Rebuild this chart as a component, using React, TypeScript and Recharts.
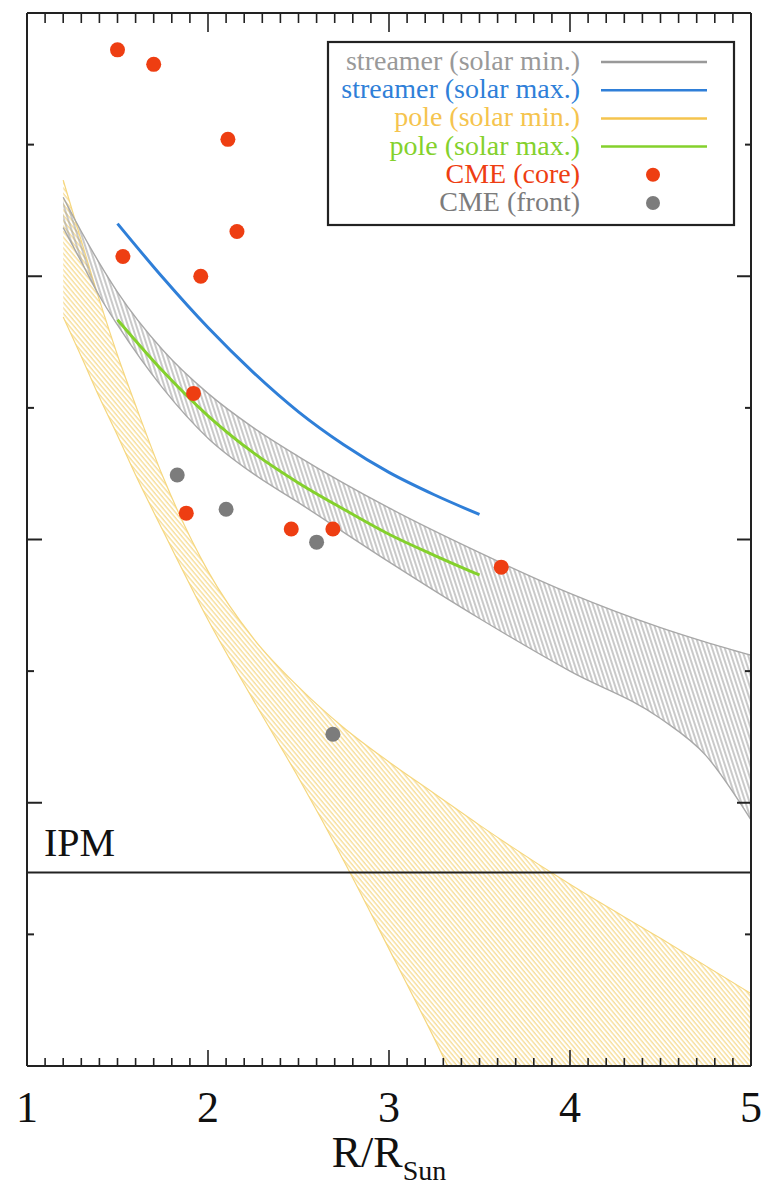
import React from "react";
import {
  ComposedChart,
  XAxis,
  YAxis,
  Area,
  Line,
  Scatter,
  ReferenceLine,
  Label,
} from "recharts";

const SERIF = "'Liberation Serif', 'DejaVu Serif', serif";

// axis ticks
const X_MINOR = Array.from({ length: 41 }, (_, i) => Math.round(10 + i) / 10);
const Y_TICKS = [0, 1, 2, 3, 4, 5, 6, 7, 8];
const IPM_LEVEL = 1.47;

// streamer, solar minimum (hatched band)
const STREAMER_MIN_R = [1.2, 1.3, 1.4, 1.5, 1.75, 2.0, 2.25, 2.5, 3.0, 3.5, 4.0, 4.5, 4.75, 5.0];
const STREAMER_MIN_LO = [6.37, 6.11, 5.85, 5.63, 5.15, 4.77, 4.5, 4.28, 3.83, 3.4, 3.0, 2.64, 2.36, 1.87];
const STREAMER_MIN_HI = [6.6, 6.34, 6.1, 5.88, 5.44, 5.11, 4.85, 4.63, 4.24, 3.9, 3.59, 3.33, 3.22, 3.12];

// pole, solar minimum (hatched band)
const POLE_MIN_R = [1.2, 1.3, 1.4, 1.5, 1.6, 1.75, 2.0, 2.25, 2.5, 2.75, 3.0, 3.25, 3.5, 4.0, 4.5, 5.0];
const POLE_MIN_LO = [5.69, 5.39, 5.08, 4.79, 4.49, 4.07, 3.39, 2.78, 2.19, 1.56, 0.89, 0.21, -0.5, -1.95, -3.43, -4.91];
const POLE_MIN_HI = [6.73, 6.27, 5.82, 5.4, 5.02, 4.48, 3.76, 3.25, 2.88, 2.57, 2.31, 2.07, 1.83, 1.38, 0.97, 0.55];

// streamer / pole, solar maximum
const MAX_R = [1.5, 1.75, 2.0, 2.25, 2.5, 2.75, 3.0, 3.25, 3.5];
const STREAMER_MAX_N = [6.4, 5.99, 5.61, 5.27, 4.97, 4.72, 4.51, 4.34, 4.19];
const POLE_MAX_N = [5.67, 5.28, 4.94, 4.66, 4.43, 4.23, 4.04, 3.88, 3.73];

// CME measurements
const CORE_R = [1.5, 1.7, 2.11, 2.16, 1.53, 1.96, 1.92, 1.88, 2.46, 2.69, 3.62];
const CORE_N = [7.72, 7.61, 7.04, 6.34, 6.15, 6.0, 5.11, 4.2, 4.08, 4.08, 3.79];
const FRONT_R = [1.83, 2.1, 2.6, 2.69];
const FRONT_N = [4.49, 4.23, 3.98, 2.52];

const COLORS = {
  streamerMin: "#999999",
  streamerMax: "#2f7fd8",
  poleMin: "#f5c44e",
  poleMax: "#84d12c",
  core: "#ee3e12",
  front: "#7c7c7c",
  axis: "#222",
};

const LEGEND = [
  { label: "streamer (solar min.)", color: COLORS.streamerMin, kind: "line" },
  { label: "streamer (solar max.)", color: COLORS.streamerMax, kind: "line" },
  { label: "pole (solar min.)", color: COLORS.poleMin, kind: "line" },
  { label: "pole (solar max.)", color: COLORS.poleMax, kind: "line" },
  { label: "CME (core)", color: COLORS.core, kind: "dot" },
  { label: "CME (front)", color: COLORS.front, kind: "dot" },
];

const toBand = (r: number[], lo: number[], hi: number[]) =>
  r.map((x, i) => ({ r: x, band: [lo[i], hi[i]] }));
const toPoints = (r: number[], n: number[]) => r.map((x, i) => ({ r: x, n: n[i] }));

const streamerMin = toBand(STREAMER_MIN_R, STREAMER_MIN_LO, STREAMER_MIN_HI);
const poleMin = toBand(POLE_MIN_R, POLE_MIN_LO, POLE_MIN_HI);
const streamerMax = toPoints(MAX_R, STREAMER_MAX_N);
const poleMax = toPoints(MAX_R, POLE_MAX_N);
const core = toPoints(CORE_R, CORE_N);
const front = toPoints(FRONT_R, FRONT_N);

const isWhole = (v: number) => Math.abs(v - Math.round(v)) < 1e-6;

function BottomTick({ x, y, payload }: any) {
  const major = isWhole(payload.value);
  return (
    <g>
      <line x1={x} x2={x} y1={y} y2={y - (major ? 16 : 8)} stroke={COLORS.axis} strokeWidth={1.6} />
      {major && (
        <text x={x} y={y + 56} textAnchor="middle" fontSize={44} fontFamily={SERIF} fill="#111">
          {Math.round(payload.value)}
        </text>
      )}
    </g>
  );
}

function TopTick({ x, y, payload }: any) {
  const major = isWhole(payload.value);
  return <line x1={x} x2={x} y1={y} y2={y + (major ? 19 : 10)} stroke={COLORS.axis} strokeWidth={1.6} />;
}

function LeftTick({ x, y, payload }: any) {
  const major = payload.value % 2 === 0;
  return <line x1={x} x2={x + (major ? 15 : 7)} y1={y} y2={y} stroke={COLORS.axis} strokeWidth={2} />;
}

function RightTick({ x, y, payload }: any) {
  const major = payload.value % 2 === 0;
  return <line x1={x} x2={x - (major ? 14 : 6)} y1={y} y2={y} stroke={COLORS.axis} strokeWidth={2} />;
}

function XTitle({ viewBox }: any) {
  const cx = viewBox.x + viewBox.width / 2;
  return (
    <text x={cx} y={viewBox.y + 101} textAnchor="middle" fontFamily={SERIF} fontSize={44} fill="#111">
      <tspan>R/R</tspan>
      <tspan fontSize={28} dy={13}>Sun</tspan>
    </text>
  );
}

function IpmLabel({ viewBox }: any) {
  return (
    <text x={viewBox.x + 17} y={viewBox.y - 17} fontFamily={SERIF} fontSize={40} fill="#111">
      IPM
    </text>
  );
}

const dot = (fill: string) => (p: any) => <circle cx={p.cx} cy={p.cy} r={7.5} fill={fill} />;

function LegendBox() {
  return (
    <svg
      width={779}
      height={1189}
      style={{ position: "absolute", left: 0, top: 0, pointerEvents: "none" }}
    >
      <rect x={328} y={42} width={406} height={183} fill="#fff" stroke={COLORS.axis} strokeWidth={2.2} />
      {LEGEND.map((item, i) => {
        const cy = 62 + i * 28.2;
        return (
          <g key={item.label}>
            <text
              x={580}
              y={cy + 8}
              textAnchor="end"
              fontFamily={SERIF}
              fontSize={28}
              fill={item.color}
            >
              {item.label}
            </text>
            {item.kind === "line" ? (
              <line x1={601} x2={707} y1={cy} y2={cy} stroke={item.color} strokeWidth={2.5} />
            ) : (
              <circle cx={653} cy={cy} r={7} fill={item.color} />
            )}
          </g>
        );
      })}
    </svg>
  );
}

export default function App() {
  return (
    <div style={{ position: "absolute", left: 0, top: 0, width: 779, height: 1189, background: "#fff" }}>
      <ComposedChart width={779} height={1189} margin={{ top: 11, right: 27, bottom: 0, left: 26 }}>
        <defs>
          <pattern id="hatchGray" width="4" height="4" patternUnits="userSpaceOnUse" patternTransform="rotate(-18)">
            <line x1="1" y1="0" x2="1" y2="4" stroke="#9d9d9d" strokeWidth="1.1" />
          </pattern>
          <pattern id="hatchYellow" width="3.5" height="3.5" patternUnits="userSpaceOnUse" patternTransform="rotate(-40)">
            <line x1="1" y1="0" x2="1" y2="3.5" stroke="#f4d170" strokeWidth="1" />
          </pattern>
        </defs>

        <XAxis
          xAxisId="b"
          dataKey="r"
          type="number"
          domain={[1, 5]}
          allowDataOverflow
          ticks={X_MINOR}
          interval={0}
          height={123}
          tickSize={0}
          tickMargin={0}
          tickLine={false}
          tick={<BottomTick />}
          axisLine={{ stroke: COLORS.axis, strokeWidth: 2 }}
        >
          <Label content={<XTitle />} />
        </XAxis>
        <XAxis
          xAxisId="t"
          dataKey="r"
          orientation="top"
          type="number"
          domain={[1, 5]}
          allowDataOverflow
          ticks={X_MINOR}
          interval={0}
          height={2}
          tickSize={0}
          tickMargin={0}
          tickLine={false}
          tick={<TopTick />}
          axisLine={{ stroke: COLORS.axis, strokeWidth: 2 }}
        />
        <YAxis
          yAxisId="l"
          type="number"
          domain={[0, 8]}
          allowDataOverflow
          ticks={Y_TICKS}
          interval={0}
          width={1}
          tickSize={0}
          tickMargin={0}
          tickLine={false}
          tick={<LeftTick />}
          axisLine={{ stroke: COLORS.axis, strokeWidth: 2 }}
        />
        <YAxis
          yAxisId="r"
          orientation="right"
          type="number"
          domain={[0, 8]}
          allowDataOverflow
          ticks={Y_TICKS}
          interval={0}
          width={1}
          tickSize={0}
          tickMargin={0}
          tickLine={false}
          tick={<RightTick />}
          axisLine={{ stroke: COLORS.axis, strokeWidth: 2 }}
        />

        <Area
          xAxisId="b"
          yAxisId="l"
          data={poleMin}
          dataKey="band"
          type="monotone"
          stroke="#f6d77e"
          strokeWidth={1.2}
          fill="url(#hatchYellow)"
          fillOpacity={1}
          isAnimationActive={false}
        />
        <Area
          xAxisId="b"
          yAxisId="l"
          data={streamerMin}
          dataKey="band"
          type="monotone"
          stroke="#a8a8a8"
          strokeWidth={1.4}
          fill="url(#hatchGray)"
          fillOpacity={1}
          isAnimationActive={false}
        />
        <Line
          xAxisId="t"
          yAxisId="r"
          data={streamerMax}
          dataKey="n"
          type="monotone"
          stroke={COLORS.streamerMax}
          strokeWidth={3}
          dot={false}
          isAnimationActive={false}
        />
        <Line
          xAxisId="t"
          yAxisId="r"
          data={poleMax}
          dataKey="n"
          type="monotone"
          stroke={COLORS.poleMax}
          strokeWidth={3}
          dot={false}
          isAnimationActive={false}
        />
        <ReferenceLine
          xAxisId="b"
          yAxisId="l"
          y={IPM_LEVEL}
          stroke={COLORS.axis}
          strokeWidth={2}
          label={<IpmLabel />}
        />
        <Scatter
          xAxisId="b"
          yAxisId="l"
          data={front}
          dataKey="n"
          shape={dot(COLORS.front)}
          isAnimationActive={false}
        />
        <Scatter
          xAxisId="b"
          yAxisId="l"
          data={core}
          dataKey="n"
          shape={dot(COLORS.core)}
          isAnimationActive={false}
        />
      </ComposedChart>
      <LegendBox />
    </div>
  );
}
